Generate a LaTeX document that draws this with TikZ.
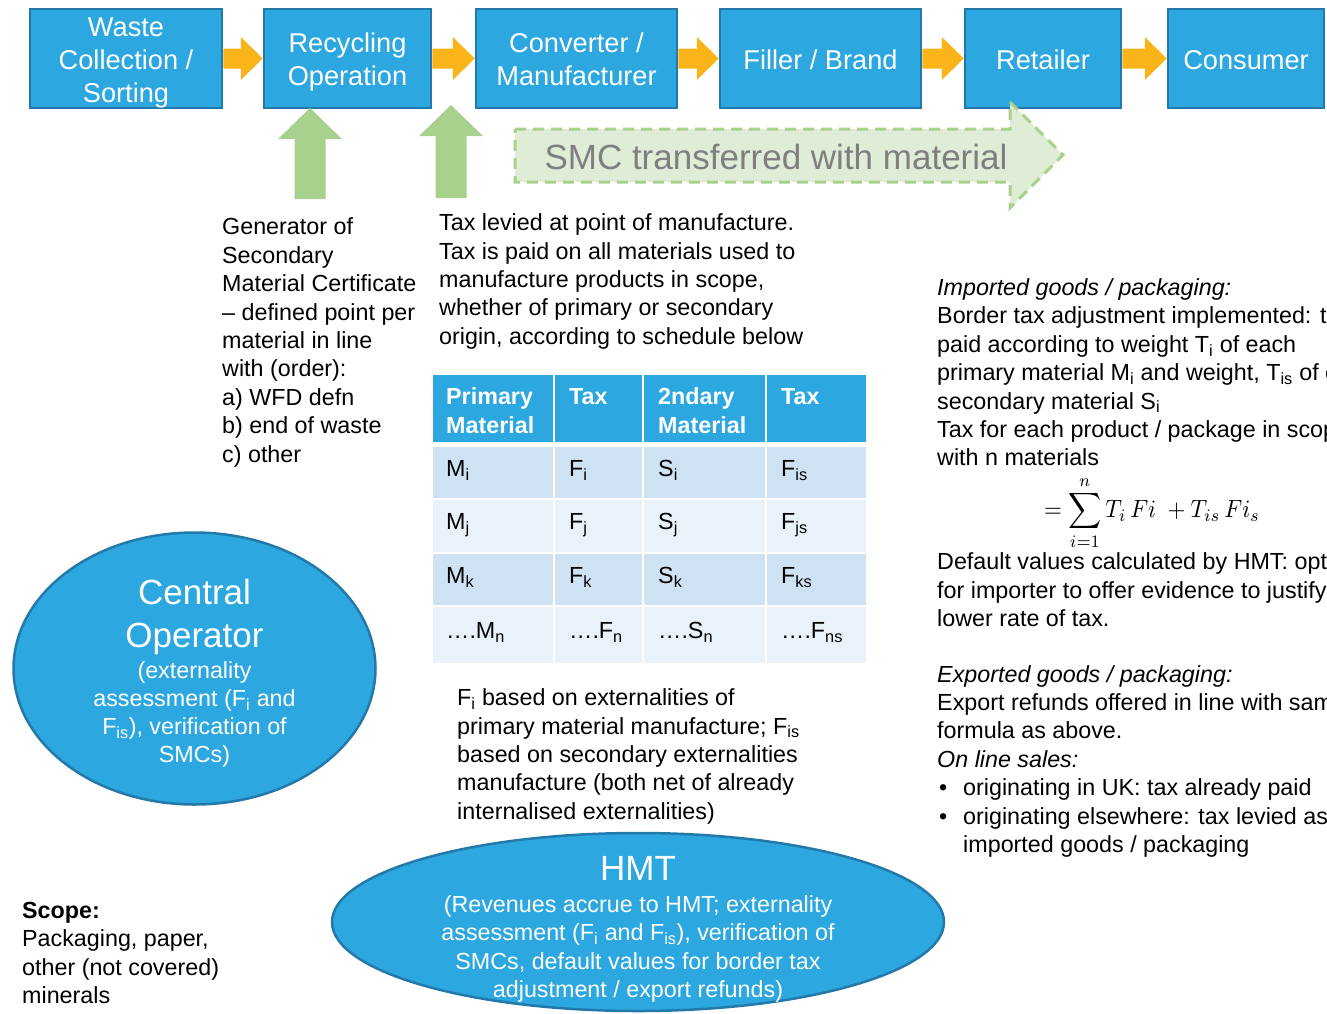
\documentclass[tikz,border=0pt]{standalone}
\usepackage{fontspec}
\setmainfont{Liberation Sans}
\usetikzlibrary{calc,shapes.geometric}

\definecolor{boxblue}{HTML}{2CA7DF}
\definecolor{boxedge}{HTML}{2379A9}
\definecolor{flowor}{HTML}{F8B418}
\definecolor{feedgreen}{HTML}{A9D18E}
\definecolor{smcfill}{HTML}{DFECD6}
\definecolor{smcgrey}{HTML}{7F7F7F}
\definecolor{rowdark}{HTML}{CFE2F3}
\definecolor{rowlight}{HTML}{E9F1FA}

\newcommand\txtbody{\fontsize{23.3}{28.4}\selectfont}
\newcommand\txtbox{\fontsize{27.2}{33}\selectfont}
\newcommand\txtbig{\fontsize{35}{43}\selectfont}

% block arrow between two stage boxes
\newcommand\flowarrow[2]{%
  \fill[flowor] ($(#1.east)+(0,-10)$) -- ($(#2.west)+(-22,-10)$) -- ($(#2.west)+(-22,-21.5)$)
    -- (#2.west) -- ($(#2.west)+(-22,21.5)$) -- ($(#2.west)+(-22,10)$) -- ($(#1.east)+(0,10)$) -- cycle;}
% upward block arrow from a base point to a tip point
\newcommand\feedarrow[2]{%
  \fill[feedgreen] ($(#1)+(-15.5,0)$) -- ($(#2)+(-15.5,31)$) -- ($(#2)+(-32,31)$) -- (#2)
    -- ($(#2)+(32,31)$) -- ($(#2)+(15.5,31)$) -- ($(#1)+(15.5,0)$) -- cycle;}

\begin{document}
% multi-line text nodes are placed by the baseline of their last line
\begin{tikzpicture}[x=1pt,y=-1pt,
  stage/.style={draw=boxedge, line width=2.5pt, fill=boxblue, minimum height=99pt, inner sep=0pt},
  stagelbl/.style={text=white, font=\txtbox, align=center, inner sep=0pt, anchor=base},
  txt/.style={font=\txtbody, align=left, inner sep=0pt, anchor=base west},
  ctxt/.style={font=\txtbody, align=center, inner sep=0pt, anchor=base, text=white},
  org/.style={ellipse, draw=boxedge, line width=2.5pt, fill=boxblue, inner sep=0pt},
  hdtxt/.style={font=\txtbody\bfseries, align=left, inner sep=0pt, anchor=base west, text=white},
  celltxt/.style={font=\txtbody, inner sep=0pt, anchor=base west}]

\useasboundingbox (0,0) rectangle (1327,1013);
\clip (0,0) rectangle (1327,1013);

% supply chain stages
\node[stage, minimum width=192pt] (waste)  at (126,58.5)    {};
\node[stage, minimum width=167pt] (recyc)  at (347.5,58.5)  {};
\node[stage, minimum width=201pt] (conv)   at (576.5,58.5)  {};
\node[stage, minimum width=201pt] (filler) at (820.5,58.5)  {};
\node[stage, minimum width=156pt] (retail) at (1043,58.5)   {};
\node[stage, minimum width=156pt] (cons)   at (1246,58.5)   {};

\node[stagelbl] (wastelbl)  at ($(waste.center)+(0,44.2)$)  {Waste\\Collection /\\Sorting};
\node[stagelbl] (recyclbl)  at ($(recyc.center)+(0,27.2)$)  {Recycling\\Operation};
\node[stagelbl] (convlbl)   at ($(conv.center)+(0,27.2)$)   {Converter /\\Manufacturer};
\node[stagelbl] (fillerlbl) at ($(filler.center)+(0,11.2)$) {Filler / Brand};
\node[stagelbl] (retaillbl) at ($(retail.center)+(0,11.2)$) {Retailer};
\node[stagelbl] (conslbl)   at ($(cons.center)+(0,11.2)$)   {Consumer};

\flowarrow{waste}{recyc}
\flowarrow{recyc}{conv}
\flowarrow{conv}{filler}
\flowarrow{filler}{retail}
\flowarrow{retail}{cons}

% certificate and tax inputs
\coordinate (gbase1) at (310,199);
\coordinate (gtip1) at (310,108);
\coordinate (gbase2) at (451,198);
\coordinate (gtip2) at (451,105);
\feedarrow{gbase1}{gtip1}
\feedarrow{gbase2}{gtip2}

% SMC transfer arrow
\draw[draw=feedgreen, fill=smcfill, line width=3pt, dash pattern=on 11pt off 7pt]
  (515,129) -- (1010,129) -- (1010,102) -- (1063,155) -- (1010,208) -- (1010,182) -- (515,182) -- cycle;
\node[font=\fontsize{35}{40}\selectfont, text=smcgrey, inner sep=0pt] (smclabel) at (776,157)
  {SMC transferred with material};

% explanatory text
\node[txt] (gentext) at (222,462) {Generator of\\Secondary\\Material Certificate\\– defined point per\\material in line\\with (order):\\a) WFD defn\\b) end of waste\\c) other};
\node[txt] (taxtext) at (439,344.3) {Tax levied at point of manufacture.\\Tax is paid on all materials used to\\manufacture products in scope,\\whether of primary or secondary\\origin, according to schedule below};

% schedule table
\foreach \xa/\xb in {433/553, 555/642, 644/765, 767/866} {
  \fill[boxblue] (\xa,375) rectangle (\xb,442);
  \fill[rowdark]  (\xa,447) rectangle (\xb,498);
  \fill[rowlight] (\xa,500) rectangle (\xb,552);
  \fill[rowdark]  (\xa,554) rectangle (\xb,605);
  \fill[rowlight] (\xa,607) rectangle (\xb,663);
}
\node[hdtxt] (h1) at (446,433) {Primary\\Material};
\node[hdtxt] (h2) at (569,404.5) {Tax};
\node[hdtxt] (h3) at (658,433) {2ndary\\Material};
\node[hdtxt] (h4) at (781,404.5) {Tax};

\node[celltxt] (a1) at (446,476.5) {M\textsubscript{i}};
\node[celltxt] (b1) at (569,476.5) {F\textsubscript{i}};
\node[celltxt] (c1) at (658,476.5) {S\textsubscript{i}};
\node[celltxt] (d1) at (781,476.5) {F\textsubscript{is}};
\node[celltxt] (a2) at (446,529.5) {M\textsubscript{j}};
\node[celltxt] (b2) at (569,529.5) {F\textsubscript{j}};
\node[celltxt] (c2) at (658,529.5) {S\textsubscript{j}};
\node[celltxt] (d2) at (781,529.5) {F\textsubscript{js}};
\node[celltxt] (a3) at (446,583.5) {M\textsubscript{k}};
\node[celltxt] (b3) at (569,583.5) {F\textsubscript{k}};
\node[celltxt] (c3) at (658,583.5) {S\textsubscript{k}};
\node[celltxt] (d3) at (781,583.5) {F\textsubscript{ks}};
\node[celltxt] (a4) at (446,638.5) {….M\textsubscript{n}};
\node[celltxt] (b4) at (569,638.5) {….F\textsubscript{n}};
\node[celltxt] (c4) at (658,638.5) {….S\textsubscript{n}};
\node[celltxt] (d4) at (781,638.5) {….F\textsubscript{ns}};

\node[txt] (ftext) at (457,819.2) {F\textsubscript{i} based on externalities of\\primary material manufacture; F\textsubscript{is}\\based on secondary externalities\\manufacture (both net of already\\internalised externalities)};

% imports and exports
\node[txt] (imptext) at (937,465.9) {\textit{Imported goods / packaging:}\\Border tax adjustment implemented: tax\\paid according to weight T\textsubscript{i} of each\\primary material M\textsubscript{i} and weight, T\textsubscript{is} of each\\secondary material S\textsubscript{i}\\Tax for each product / package in scope\\with n materials};
\node[xscale=2.3, yscale=2.5, inner sep=0pt] (formula) at (1152,513)
  {$\displaystyle =\sum_{i=1}^{n} T_{i}\,Fi\ + T_{is}\,Fi_{s}$};
\node[txt] (deftext) at (937,626.5) {Default values calculated by HMT: option\\for importer to offer evidence to justify a\\lower rate of tax.};
\node[txt] (exptext) at (937,852.5) {\textit{Exported goods / packaging:}\\Export refunds offered in line with same\\formula as above.\\\textit{On line sales:}\\\makebox[26pt][l]{\hspace{2pt}•}originating in UK: tax already paid\\\makebox[26pt][l]{\hspace{2pt}•}originating elsewhere: tax levied as for\\\hspace*{26pt}imported goods / packaging};

% scope
\node[txt] (scope) at (22,1003.5) {\textbf{Scope:}\\Packaging, paper,\\other (not covered)\\minerals};

% central operator
\node[org, minimum width=362pt, minimum height=272pt] (central) at (194.5,668.5) {};
\node[ctxt, font=\txtbig] (centralname) at (194.5,647.5) {Central\\Operator};
\node[ctxt, font=\fontsize{23.3}{28}\selectfont] (centralnote) at (194.5,762.5)
  {(externality\\assessment (F\textsubscript{i} and\\F\textsubscript{is}), verification of\\SMCs)};

% treasury
\node[org, minimum width=612pt, minimum height=178pt] (hmt) at (638,922) {};
\node[ctxt, font=\txtbig] (hmtname) at (638,880.5) {HMT};
\node[ctxt] (hmtnote) at (638,997.7)
  {(Revenues accrue to HMT; externality\\assessment (F\textsubscript{i} and F\textsubscript{is}), verification of\\SMCs, default values for border tax\\adjustment / export refunds)};

\end{tikzpicture}
\end{document}
